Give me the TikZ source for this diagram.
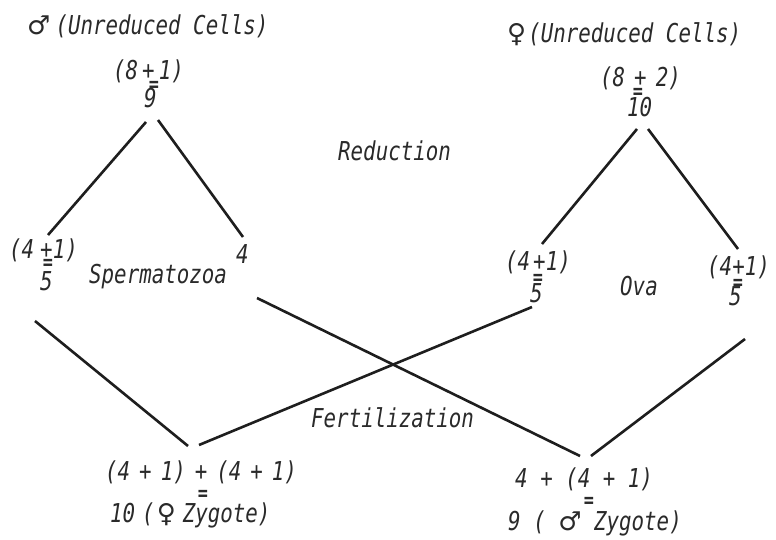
\documentclass[tikz,border=0pt]{standalone}
\usepackage{fontspec}
\setmainfont{DejaVu Sans}
\newfontfamily\lab[FakeStretch=0.8]{DejaVu Sans Mono}
\newfontfamily\sym{DejaVu Sans}
\newcommand{\gp}[1]{\hspace{#1pt}}
\definecolor{ink}{HTML}{2A2A2A}
\definecolor{ink2}{HTML}{1E1E1E}
\begin{document}
\begin{tikzpicture}[x=1pt,y=-1pt,
  txt/.style={inner sep=0pt, text=ink, text depth=0pt, font=\lab\itshape\fontsize{26}{28}\selectfont},
  eq/.style={inner sep=0pt, text=ink, font=\lab\bfseries\fontsize{21}{22}\selectfont},
  ln/.style={line width=2.6pt, draw=ink2}]
\useasboundingbox (0,0) rectangle (776,540);
\fill[white] (0,0) rectangle (776,540);

% titles
\node[txt, anchor=base west] (mtitle) at (27,35) {{\sym ♂}\gp{5}(Unreduced Cells)};
\node[txt, anchor=base west] (ftitle) at (507,43) {{\sym ♀}\gp{2}(Unreduced Cells)};

% male unreduced
\node[txt, anchor=base west] (m81) at (113,80) {(8\gp{4}+\gp{4}1)};
\node[eq] (m81eq) at (154,86) {=};
\node[txt, anchor=base west] (m9) at (144,108) {9};

% female unreduced
\node[txt, anchor=base west] (f82) at (600,87) {(8\gp{9}+\gp{9}2)};
\node[eq] (f82eq) at (638,93) {=};
\node[txt, anchor=base west] (f10) at (627,117) {10};

\node[txt, anchor=base west] (red) at (338,161) {Reduction};

% spermatozoa
\node[txt, anchor=base west] (s41) at (9,258) {(4\gp{6}+1)};
\node[eq] (s41eq) at (48,264) {=};
\node[txt, anchor=base west] (s5) at (40,290) {5};
\node[txt, anchor=base west] (s4) at (236,263) {4};
\node[txt, anchor=base west] (sperm) at (89,283) {Spermatozoa};

% ova
\node[txt, anchor=base west] (o41) at (505,270) {(4\gp{3}+1)};
\node[eq] (o41eq) at (538,279) {=};
\node[txt, anchor=base west] (o5) at (530,302) {5};
\node[txt, anchor=base west] (ova) at (620,295) {Ova};
\node[txt, anchor=base west] (p41) at (707,275) {(4+1)};
\node[eq] (p41eq) at (738,284) {=};
\node[txt, anchor=base west] (p5) at (729,305) {5};

\node[txt, anchor=base west] (fert) at (311,427) {Fertilization};

% zygotes
\node[txt, anchor=base west] (fz1) at (105,480) {(4\gp{9}+\gp{9}1)\gp{9}+\gp{9}(4\gp{9}+\gp{9}1)};
\node[eq] (fzeq) at (203,495) {=};
\node[txt, anchor=base west] (fz2) at (110,522) {10\gp{7}(\gp{2}{\sym ♀}\gp{7}Zygote)};
\node[txt, anchor=base west] (mz1) at (515,487) {4 + (4 + 1)};
\node[eq] (mzeq) at (589,502) {=};
\node[txt, anchor=base west] (mz2) at (508,530) {9 ( {\sym ♂} Zygote)};

% connector end points
\coordinate (a1) at (146,122); \coordinate (a2) at (48,235);
\coordinate (b1) at (158,120); \coordinate (b2) at (243,237);
\coordinate (c1) at (637,129); \coordinate (c2) at (542,244);
\coordinate (d1) at (648,129); \coordinate (d2) at (738,249);
\coordinate (e1) at (35,321);  \coordinate (e2) at (188,446);
\coordinate (f1) at (257,298); \coordinate (f2) at (580,456);
\coordinate (g1) at (532,307); \coordinate (g2) at (199,445);
\coordinate (h1) at (745,339); \coordinate (h2) at (591,456);

\draw[ln] (a1) -- (a2);
\draw[ln] (b1) -- (b2);
\draw[ln] (c1) -- (c2);
\draw[ln] (d1) -- (d2);
\draw[ln] (e1) -- (e2);
\draw[ln] (f1) -- (f2);
\draw[ln] (g1) -- (g2);
\draw[ln] (h1) -- (h2);
\end{tikzpicture}
\end{document}
